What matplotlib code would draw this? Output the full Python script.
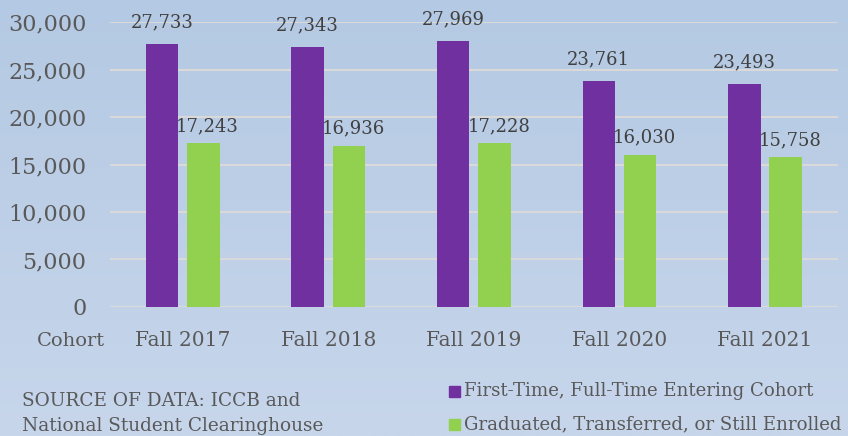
import numpy as np
import matplotlib
matplotlib.use("Agg")
import matplotlib.pyplot as plt
from matplotlib.patches import Rectangle

categories = ["Fall 2017", "Fall 2018", "Fall 2019", "Fall 2020", "Fall 2021"]
first_time = [27733, 27343, 27969, 23761, 23493]
graduated = [17243, 16936, 17228, 16030, 15758]
series_names = ["First-Time, Full-Time Entering Cohort",
                "Graduated, Transferred, or Still Enrolled"]
yticks = [0, 5000, 10000, 15000, 20000, 25000, 30000]

PURPLE = "#7030A0"
GREEN = "#92D050"
GRAY = "#595959"
LABEL = "#404040"
FONT = ["DejaVu Serif"]

fig = plt.figure(figsize=(8.48, 4.36), dpi=100)

# gradient background
bg = fig.add_axes([0, 0, 1, 1], zorder=-10)
top = np.array([180, 201, 227]) / 255
bot = np.array([199, 214, 235]) / 255
t = np.linspace(0, 1, 256)[:, None]
grad = top[None, :] * (1 - t) + bot[None, :] * t
bg.imshow(grad[:, None, :], aspect="auto", extent=[0, 1, 0, 1])
bg.set_axis_off()

ax = fig.add_axes([0.1297, 0.2959, 0.8583, 0.6536])
ax.patch.set_alpha(0)
x = np.arange(len(categories))
w = 0.223
off = 0.142
b1 = ax.bar(x - off, first_time, w, color=PURPLE, zorder=3)
b2 = ax.bar(x + off, graduated, w, color=GREEN, zorder=3)
ax.set_xlim(-0.5, len(categories) - 0.5)
ax.set_ylim(0, 30000)
ax.set_yticks(yticks)
ax.set_yticklabels([f"{v:,}" for v in yticks], fontsize=16, color=GRAY, family=FONT)
ax.set_xticks(x)
ax.set_xticklabels(categories, fontsize=14.5, color=GRAY, family=FONT)
ax.tick_params(axis="y", length=0, pad=17)
ax.tick_params(axis="x", length=0, pad=17)
ax.grid(axis="y", color="#D9D9D9", linewidth=1.5, zorder=0)
for s in ax.spines.values():
    s.set_visible(False)

for bars, vals, dx, dy in ((b1, first_time, 0, 9), (b2, graduated, 3, 6)):
    for b, v in zip(bars, vals):
        ax.annotate(f"{v:,}", (b.get_x() + b.get_width() / 2, v),
                    xytext=(dx, dy), textcoords="offset points",
                    ha="center", va="bottom", fontsize=13, color=LABEL, family=FONT)

fig.text(105 / 848, 1 - 341 / 436, "Cohort", ha="right", va="center",
         fontsize=14, color=GRAY, family=FONT)
fig.text(22 / 848, 1 - 401 / 436, "SOURCE OF DATA: ICCB and", ha="left", va="center",
         fontsize=13.3, color=GRAY, family=FONT)
fig.text(22 / 848, 1 - 426 / 436, "National Student Clearinghouse", ha="left", va="center",
         fontsize=13.3, color=GRAY, family=FONT)

for i, (name, col) in enumerate(zip(series_names, [PURPLE, GREEN])):
    yc = 1 - (391 + i * 33) / 436
    fig.patches.append(Rectangle((449 / 848, yc - 5.5 / 436), 11 / 848, 11 / 436,
                                 transform=fig.transFigure, color=col, figure=fig))
    fig.text(464 / 848, yc, name, ha="left", va="center",
             fontsize=13.1, color=GRAY, family=FONT)

fig.savefig("out.png", dpi=100)
